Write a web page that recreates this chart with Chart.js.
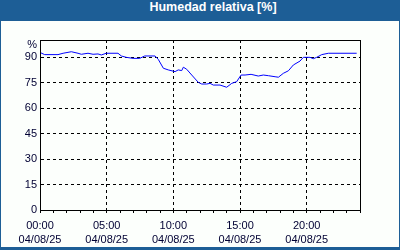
<!DOCTYPE html>
<html>
<head>
<meta charset="utf-8">
<script src="https://cdn.jsdelivr.net/npm/chart.js@4/dist/chart.umd.min.js"></script>
<style>
    html, body { margin: 0; padding: 0; }
    body { width: 400px; height: 250px; background: #1d5e96; position: relative; overflow: hidden; }
    #title {
        position: absolute; left: 0; top: 0; width: 400px; height: 21px;
        line-height: 21px; text-align: center; box-sizing: border-box; padding-left: 26px;
        color: #fff; font: bold 12.5px "Liberation Sans", sans-serif;
    }
    #box { position: absolute; left: 1px; top: 21px; width: 398px; height: 226px; background: #fcfffc; }
</style>
</head>
<body>
<div id="title">Humedad relativa [%]</div>
<div id="box"><canvas id="humChart" width="398" height="226"></canvas></div>
<script>
    // hours since 00:00 on 04/08/25
    const hours = [0.05, 0.35, 1.35, 1.73, 2.35, 2.85, 3.1, 3.6, 3.98, 4.35, 4.6, 4.97, 5.85, 6.1, 6.47,
        6.98, 7.48, 7.85, 8.63, 8.87, 9.25, 9.62, 10.13, 10.37, 10.63, 10.75, 11.0, 11.38, 11.87, 12.13,
        12.5, 12.75, 13.0, 13.5, 14.0, 14.38, 14.75, 15.08, 15.38, 15.83, 16.37, 16.75, 17.13, 17.63,
        17.88, 18.25, 18.63, 19.0, 19.5, 19.75, 20.25, 20.5, 20.75, 21.13, 21.63, 23.75];
    const humidity = [92.5, 91.4, 91.4, 92.2, 93.1, 92.2, 91.6, 92.2, 91.6, 91.8, 91.2, 92.2, 92.2, 90.6, 89.8,
        89.2, 89.2, 90.6, 90.6, 88.6, 83.4, 82.4, 81.4, 82.4, 82.0, 84.0, 82.8, 79.4, 75.1, 74.1,
        74.1, 74.5, 73.5, 73.5, 72.2, 74.5, 75.5, 79.4, 79.4, 79.8, 78.8, 79.4, 79.0, 78.4,
        78.1, 80.4, 81.9, 85.3, 87.6, 89.8, 89.8, 89.0, 89.8, 91.4, 92.2, 92.2];
    const timeLabels = ['00:00', '05:00', '10:00', '15:00', '20:00'];
    const dateLabel = '04/08/25';
    const yTicks = [0, 15, 30, 45, 60, 75, 90];
    const yUnit = '%';

    const textColor = '#000033';
    const tickFont = { family: '"Liberation Sans", sans-serif', size: 11, lineHeight: '14px' };

    // closed black frame round the plot, plus the unit label under its top-left corner
    const frame = {
        id: 'frame',
        afterDatasetsDraw(chart) {
            const a = chart.chartArea;
            const ctx = chart.ctx;
            ctx.save();
            ctx.strokeStyle = '#000';
            ctx.lineWidth = 1;
            ctx.strokeRect(Math.round(a.left) + 0.5, Math.round(a.top) + 0.5,
                Math.round(a.right - a.left), Math.round(a.bottom - a.top));
            ctx.fillStyle = textColor;
            ctx.font = '11px "Liberation Sans", sans-serif';
            ctx.textAlign = 'right';
            ctx.textBaseline = 'middle';
            ctx.fillText(yUnit, a.left - 3, a.top + 5);
            ctx.restore();
        }
    };

    new Chart(document.getElementById('humChart'), {
        type: 'line',
        data: {
            datasets: [{
                data: hours.map((h, i) => ({ x: h, y: humidity[i] })),
                borderColor: '#0000ff',
                borderWidth: 1,
                pointRadius: 0,
                tension: 0,
                fill: false
            }]
        },
        options: {
            responsive: false,
            animation: false,
            layout: { padding: { top: 19, right: 39, bottom: 0, left: 0 } },
            plugins: { legend: { display: false }, tooltip: { enabled: false } },
            scales: {
                x: {
                    type: 'linear',
                    min: 0,
                    max: 24,
                    afterFit(scale) { scale.height = 37; },
                    ticks: {
                        stepSize: 1,
                        autoSkip: false,
                        maxRotation: 0,
                        padding: 6,
                        color: textColor,
                        font: tickFont,
                        callback: v => v % 5 === 0 && v < 24 ? [timeLabels[v / 5], dateLabel] : ''
                    },
                    grid: {
                        color: c => (c.tick && c.tick.value % 5 === 0 && c.tick.value > 0 && c.tick.value < 24) ? '#000' : 'transparent',
                        tickColor: '#000',
                        tickLength: 3,
                        lineWidth: 1
                    },
                    border: { color: '#000', width: 1, dash: [3, 3] }
                },
                y: {
                    min: 0,
                    max: 100,
                    afterFit(scale) { scale.width = 39; },
                    afterBuildTicks(scale) {
                        scale.ticks = yTicks.map(v => ({ value: v }));
                    },
                    ticks: {
                        padding: 3,
                        color: textColor,
                        font: tickFont,
                        callback: v => String(v)
                    },
                    grid: {
                        drawTicks: false,
                        color: c => (c.tick && c.tick.value > 0 && c.tick.value < 100) ? '#000' : 'transparent',
                        lineWidth: 1
                    },
                    border: { color: '#000', width: 1, dash: [3, 3] }
                }
            }
        },
        plugins: [frame]
    });
</script>
</body>
</html>
